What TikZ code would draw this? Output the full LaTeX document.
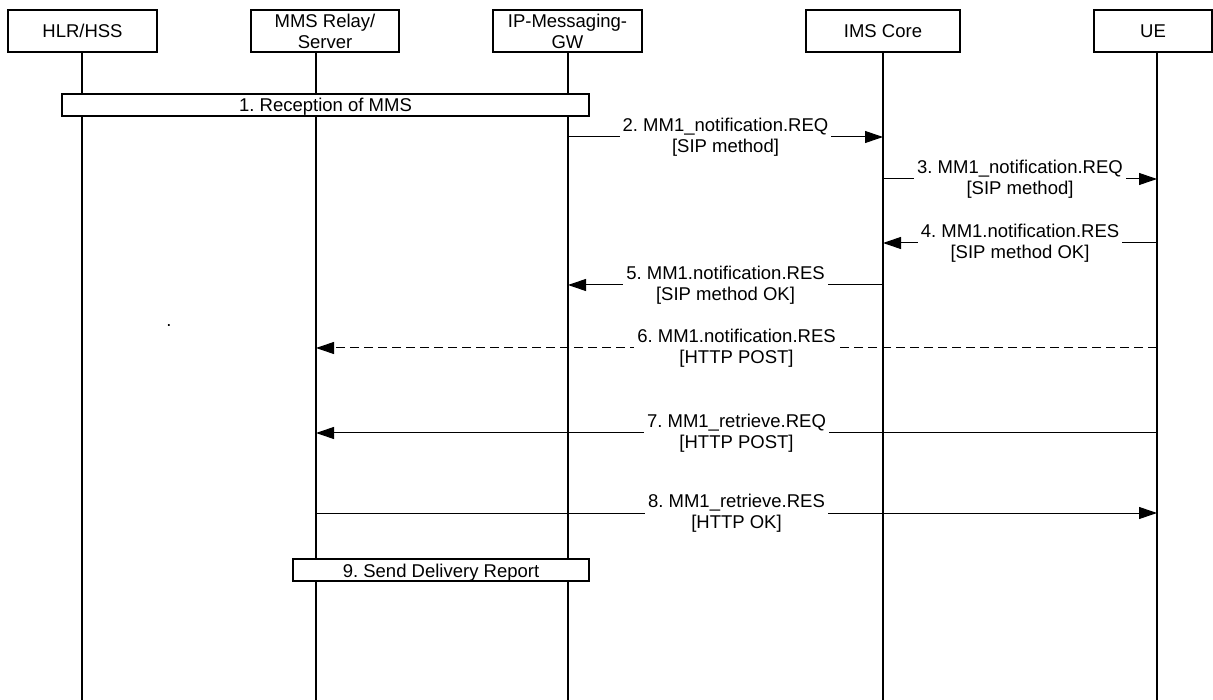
\documentclass[tikz,border=0pt]{standalone}
\usepackage{fontspec}
\setmainfont{Liberation Sans}
\usetikzlibrary{arrows.meta,calc}
\begin{document}
\frenchspacing
\begin{tikzpicture}[x=1pt,y=-1pt,
  every node/.style={font=\fontsize{18.5}{21}\selectfont\frenchspacing},
  entity/.style={draw,fill=white,line width=1.3pt,minimum height=42pt,inner sep=0pt,align=center},
  lifeline/.style={line width=1.3pt},
  phase/.style={draw,fill=white,line width=1.3pt,minimum height=22pt,inner sep=0pt,text height=14pt,text depth=0pt},
  msg/.style={line width=1pt,-{Triangle[length=18pt,width=12pt]}},
  dmsg/.style={msg,dash pattern=on 9pt off 5pt},
  lbl/.style={fill=white,align=center,inner sep=3pt}]
\useasboundingbox (0,0) rectangle (1213,700);
% lifeline bottoms
\coordinate (Lhlr) at (82,700);
\coordinate (Lmms) at (316,700);
\coordinate (Lgw) at (568,700);
\coordinate (Lims) at (883,700);
\coordinate (Lue) at (1157,700);
% header boxes
\node[entity,minimum width=149pt] (hlr) at (82.5,31) {HLR/HSS};
\node[entity,minimum width=148pt] (mms) at (325,31) {MMS Relay/\\Server};
\node[entity,minimum width=149pt] (gw) at (567.5,31) {IP-Messaging-\\GW};
\node[entity,minimum width=154pt] (ims) at (883,31) {IMS Core};
\node[entity,minimum width=118pt] (ue) at (1153,31) {UE};
% lifelines
\draw[lifeline] (hlr.south -| Lhlr) -- (Lhlr);
\draw[lifeline] (mms.south -| Lmms) -- (Lmms);
\draw[lifeline] (gw.south -| Lgw) -- (Lgw);
\draw[lifeline] (ims.south -| Lims) -- (Lims);
\draw[lifeline] (ue.south -| Lue) -- (Lue);
% phases
\node[phase,minimum width=527pt] (p1) at (325.5,105) {1. Reception of MMS};
\node[phase,minimum width=296pt] (p9) at (441,570) {9. Send Delivery Report};
% message rows
\coordinate (m2) at (0,137);
\coordinate (m3) at (0,179);
\coordinate (m4) at (0,243);
\coordinate (m5) at (0,285);
\coordinate (m6) at (0,348);
\coordinate (m7) at (0,433);
\coordinate (m8) at (0,513);
% messages
\draw[msg] (Lgw |- m2) -- (Lims |- m2)
  node[lbl,midway] (t2) {2. MM1\_notification.REQ\\{}[SIP method]};
\draw[msg] (Lims |- m3) -- (Lue |- m3)
  node[lbl,midway] (t3) {3. MM1\_notification.REQ\\{}[SIP method]};
\draw[msg] (Lue |- m4) -- (Lims |- m4)
  node[lbl,midway] (t4) {4. MM1.notification.RES\\{}[SIP method OK]};
\draw[msg] (Lims |- m5) -- (Lgw |- m5)
  node[lbl,midway] (t5) {5. MM1.notification.RES\\{}[SIP method OK]};
\draw[dmsg] (Lue |- m6) -- (Lmms |- m6)
  node[lbl,midway] (t6) {6. MM1.notification.RES\\{}[HTTP POST]};
\draw[msg] (Lue |- m7) -- (Lmms |- m7)
  node[lbl,midway] (t7) {7. MM1\_retrieve.REQ\\{}[HTTP POST]};
\draw[msg] (Lmms |- m8) -- (Lue |- m8)
  node[lbl,midway] (t8) {8. MM1\_retrieve.RES\\{}[HTTP OK]};
% stray dot
\node[anchor=base,inner sep=0pt] (dot) at (169,327) {.};
\end{tikzpicture}
\end{document}
